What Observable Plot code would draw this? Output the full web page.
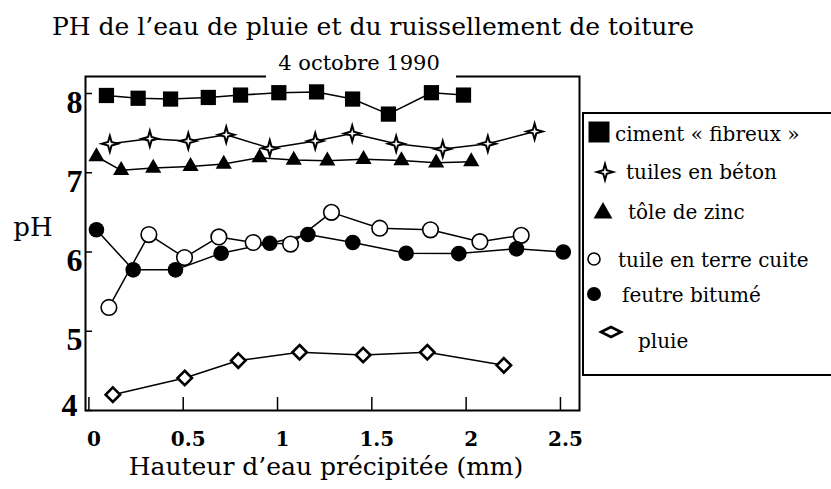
<!DOCTYPE html>
<html><head><meta charset="utf-8">
<script src="https://cdn.jsdelivr.net/npm/d3@7"></script>
<script src="https://cdn.jsdelivr.net/npm/@observablehq/plot@0.6"></script>
<style>body{margin:0;background:#fff}</style>
</head><body><div id="chart"></div>
<script>
// ---- data ----
const xTicks = [0, 0.5, 1, 1.5, 2, 2.5];
const yTicks = [4, 5, 6, 7, 8];
const seriesNames = ["ciment « fibreux »", "tuiles en béton", "tôle de zinc", "tuile en terre cuite", "feutre bitumé", "pluie"];
const cimentX = [0.093,0.261,0.433,0.633,0.804,1.007,1.207,1.398,1.588,1.816,1.986];
const cimentY = [7.975,7.94,7.93,7.95,7.98,8.01,8.02,7.93,7.74,8.01,7.98];
const betonX = [0.111,0.323,0.527,0.728,0.959,1.2,1.396,1.629,1.876,2.115,2.363];
const betonY = [7.365,7.43,7.40,7.48,7.31,7.40,7.495,7.365,7.30,7.365,7.52];
const zincX = [0.040,0.171,0.341,0.539,0.715,0.905,1.086,1.264,1.456,1.657,1.841,2.027];
const zincY = [7.205,7.03,7.06,7.08,7.11,7.19,7.16,7.15,7.17,7.155,7.125,7.14];
const terreX = [0.106,0.318,0.507,0.689,0.871,1.069,1.286,1.542,1.811,2.073,2.292];
const terreY = [5.30,6.22,5.93,6.19,6.12,6.10,6.50,6.30,6.28,6.13,6.21];
const feutreX = [0.040,0.235,0.459,0.701,0.959,1.161,1.399,1.682,1.961,2.267,2.515];
const feutreY = [6.28,5.775,5.775,5.985,6.11,6.22,6.12,5.985,5.98,6.04,6.00];
const pluieX = [0.127,0.508,0.792,1.117,1.454,1.794,2.20];
const pluieY = [4.20,4.41,4.63,4.735,4.70,4.735,4.57];

const title = "PH de l\u2019eau de pluie et du ruissellement de toiture";
const subtitle = "4 octobre 1990";
const xLabel = "Hauteur d\u2019eau précipitée (mm)";
const yLabel = "pH";

// ---- helpers ----
const pts = (xs, ys) => xs.map((x, i) => ({x, y: ys[i]}));
const star4 = {
  draw(ctx, size) {
    const r = Math.sqrt(size / Math.PI), k = r * 0.22;
    ctx.moveTo(0, -r); ctx.lineTo(k, -k); ctx.lineTo(r, 0); ctx.lineTo(k, k);
    ctx.lineTo(0, r); ctx.lineTo(-k, k); ctx.lineTo(-r, 0); ctx.lineTo(-k, -k); ctx.closePath();
  }
};
const styles = [
  {data: pts(cimentX, cimentY), symbol: "square", r: 8.6, fill: "black", stroke: "none", sw: 0},
  {data: pts(betonX, betonY), symbol: star4, r: 8, fill: "white", stroke: "black", sw: 2},
  {data: pts(zincX, zincY), symbol: "triangle", r: 6, fill: "black", stroke: "none", sw: 0},
  {data: pts(terreX, terreY), symbol: "circle", r: 7.8, fill: "white", stroke: "black", sw: 1.6},
  {data: pts(feutreX, feutreY), symbol: "circle", r: 7.8, fill: "black", stroke: "none", sw: 0},
  {data: pts(pluieX, pluieY), symbol: "diamond2", r: 6.5, fill: "white", stroke: "black", sw: 2.6}
];

const marks = [];
for (const s of styles) {
  marks.push(Plot.line(s.data, {x: "x", y: "y", stroke: "black", strokeWidth: 1.5}));
}
for (const s of styles) {
  marks.push(Plot.dot(s.data, {x: "x", y: "y", symbol: s.symbol, r: s.r, fill: s.fill, stroke: s.stroke, strokeWidth: s.sw}));
}

const chart = Plot.plot({
  width: 831, height: 489,
  marginLeft: 85, marginRight: 252, marginTop: 76, marginBottom: 79,
  style: {fontFamily: "DejaVu Serif", background: "white", color: "black"},
  x: {domain: [-0.018, 2.601]},
  y: {domain: [4.0, 8.2145]},
  marks: [
    // inward ticks
    Plot.axisX(xTicks, {tickSize: 13, dy: -13, tickFormat: () => "", label: null, strokeWidth: 1.5}),
    Plot.axisY(yTicks, {tickSize: 7, dx: 7, tickFormat: () => "", label: null, strokeWidth: 1.5}),
    // tick labels
    Plot.axisX(xTicks, {tickSize: 0, tickPadding: 21, dx: 5, label: null, fontSize: 20, fontWeight: "bold", tickFormat: d => String(d)}),
    Plot.axisY(yTicks.filter(d => d > 4), {tickSize: 0, tickPadding: 3, dy: 9, label: null, fontSize: 32, fontWeight: "bold", fontFamily: "Liberation Serif", tickFormat: d => String(d)}),
    Plot.axisY(yTicks.filter(d => d === 4), {tickSize: 0, tickPadding: 8, dy: -5, label: null, fontSize: 32, fontWeight: "bold", fontFamily: "Liberation Serif", tickFormat: d => String(d)}),
    ...marks,
    Plot.frame({stroke: "black", strokeWidth: 2})
  ]
});
document.getElementById("chart").appendChild(chart);

// ---- titles, axis labels, legend (added to the SVG) ----
const svg = d3.select(chart);
const addText = (x, y, size, anchor, txt) =>
  svg.append("text").attr("x", x).attr("y", y).attr("font-size", size)
    .attr("font-family", "DejaVu Serif").attr("text-anchor", anchor).attr("fill", "black").text(txt);
addText(52, 35, 25, "start", title);
svg.append("rect").attr("x", 266).attr("y", 58).attr("width", 190).attr("height", 20).attr("fill", "white");
addText(359, 70, 21, "middle", subtitle);
addText(326, 475, 25, "middle", xLabel);
addText(33, 236, 26, "middle", yLabel);

const lg = svg.append("g");
lg.append("rect").attr("x", 583).attr("y", 113).attr("width", 260).attr("height", 262).attr("fill", "white").attr("stroke", "black").attr("stroke-width", 2);
const legendItems = [
  {sym: d3.symbolSquare, size: 21 * 21, cx: 599, cy: 132, fill: "black", stroke: "none", sw: 0, tx: 615, ty: 141},
  {sym: star4, size: Math.PI * 64, cx: 605, cy: 172, fill: "white", stroke: "black", sw: 2, tx: 626, ty: 179},
  {sym: d3.symbolTriangle, size: Math.PI * 49, cx: 603, cy: 213, fill: "black", stroke: "none", sw: 0, tx: 628, ty: 219},
  {sym: d3.symbolCircle, size: Math.PI * 36, cx: 594, cy: 259, fill: "white", stroke: "black", sw: 1.6, tx: 618, ty: 267},
  {sym: d3.symbolCircle, size: Math.PI * 49, cx: 594, cy: 294, fill: "black", stroke: "none", sw: 0, tx: 622, ty: 302},
  {sym: null, cx: 611, cy: 332, fill: "white", stroke: "black", sw: 2.6, tx: 638, ty: 348}
];
legendItems.forEach((it, i) => {
  const g = lg.append("g").attr("transform", `translate(${it.cx},${it.cy})`);
  if (it.sym) {
    g.append("path").attr("d", d3.symbol(it.sym, it.size)()).attr("fill", it.fill).attr("stroke", it.stroke).attr("stroke-width", it.sw);
  } else {
    g.append("path").attr("d", "M-10,0L0,-5L10,0L0,5Z").attr("fill", it.fill).attr("stroke", it.stroke).attr("stroke-width", it.sw);
  }
  lg.append("text").attr("x", it.tx).attr("y", it.ty).attr("font-size", 20).attr("font-family", "DejaVu Serif")
    .attr("text-anchor", "start").attr("fill", "black").text(seriesNames[i]);
});
</script>
</body></html>
